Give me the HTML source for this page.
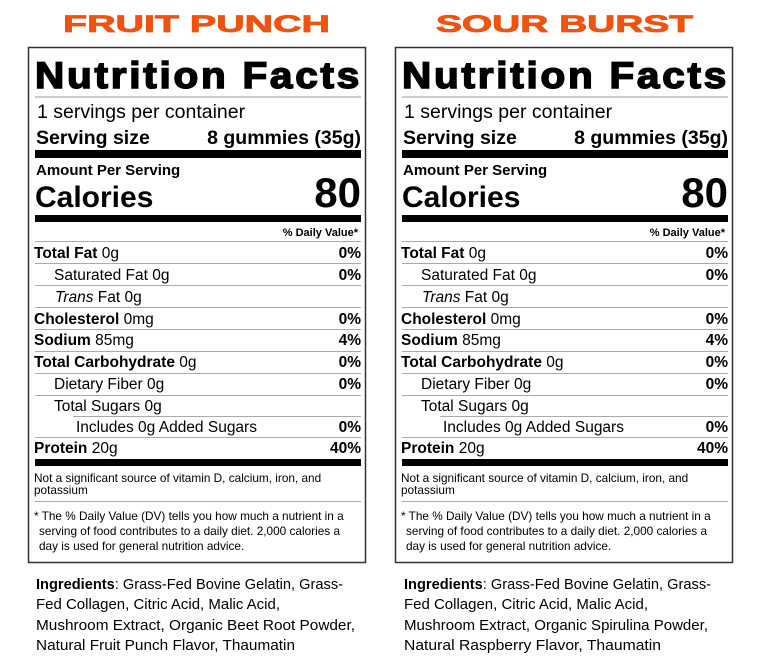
<!DOCTYPE html>
<html><head><meta charset="utf-8"><style>
html,body{margin:0;padding:0;background:#fff;}
svg{display:block;font-family:"Liberation Sans",Arial,sans-serif;}
.b{font-weight:bold}
.r{text-anchor:end}
.ing{font-size:14.5px;fill:#000}
.nf{letter-spacing:2.5px}
</style></head><body>
<svg width="760" height="668" viewBox="0 0 760 668" xmlns="http://www.w3.org/2000/svg">
<!-- LEFT PANEL -->
<g>
<text x="63" y="32" font-size="24" class="b" fill="#f0520f" textLength="267" lengthAdjust="spacingAndGlyphs" stroke="#f0520f" stroke-width="0.8">FRUIT PUNCH</text>
<rect x="28.5" y="47.5" width="337" height="515" fill="none" stroke="#333" stroke-width="1.5"/>
<text x="35" y="88" font-size="37" class="b nf" textLength="327" lengthAdjust="spacingAndGlyphs" stroke="#000" stroke-width="1.5">Nutrition Facts</text>
<rect x="35" y="96.5" width="326" height="1" fill="#999"/>
<text x="37" y="118" font-size="19.5">1 servings per container</text>
<text x="36" y="144" font-size="19.5" class="b">Serving size</text>
<text x="361" y="144" font-size="19.5" class="b r">8 gummies (35g)</text>
<rect x="35" y="150" width="326" height="8" fill="#000"/>
<text x="36" y="175" font-size="15" class="b">Amount Per Serving</text>
<text x="35" y="207" font-size="30" class="b">Calories</text>
<text x="361" y="207" font-size="42" class="b r">80</text>
<rect x="35" y="215" width="326" height="7" fill="#000"/>
<text x="358" y="236" font-size="11" class="b r">% Daily Value*</text>
<g fill="#aaa">
<rect x="35" y="241" width="326" height="1"/>
<rect x="35" y="263" width="326" height="1"/>
<rect x="35" y="285" width="326" height="1"/>
<rect x="35" y="307" width="326" height="1"/>
<rect x="35" y="329" width="326" height="1"/>
<rect x="35" y="351" width="326" height="1"/>
<rect x="35" y="373" width="326" height="1"/>
<rect x="35" y="395" width="326" height="1"/>
<rect x="73" y="416" width="288" height="1"/>
<rect x="35" y="437" width="326" height="1"/>
</g>
<g font-size="15.5">
<text x="34" y="258"><tspan class="b">Total Fat</tspan> 0g</text><text x="361" y="258" class="b r">0%</text>
<text x="54" y="280">Saturated Fat 0g</text><text x="361" y="280" class="b r">0%</text>
<text x="55" y="302"><tspan font-style="italic">Trans</tspan> Fat 0g</text>
<text x="34" y="324"><tspan class="b">Cholesterol</tspan> 0mg</text><text x="361" y="324" class="b r">0%</text>
<text x="34" y="345"><tspan class="b">Sodium</tspan> 85mg</text><text x="361" y="345" class="b r">4%</text>
<text x="34" y="367"><tspan class="b">Total Carbohydrate</tspan> 0g</text><text x="361" y="367" class="b r">0%</text>
<text x="54" y="389">Dietary Fiber 0g</text><text x="361" y="389" class="b r">0%</text>
<text x="54" y="411">Total Sugars 0g</text>
<text x="76" y="432">Includes 0g Added Sugars</text><text x="361" y="432" class="b r">0%</text>
<text x="34" y="453"><tspan class="b">Protein</tspan> 20g</text><text x="361" y="453" class="b r">40%</text>
</g>
<rect x="35" y="459" width="326" height="7" fill="#000"/>
<text x="34" y="482" font-size="11.8">Not a significant source of vitamin D, calcium, iron, and</text>
<text x="34" y="494" font-size="11.8">potassium</text>
<rect x="35" y="501" width="326" height="1" fill="#aaa"/>
<text x="34" y="520" font-size="11.8">* The % Daily Value (DV) tells you how much a nutrient in a</text>
<text x="39" y="535" font-size="11.8">serving of food contributes to a daily diet. 2,000 calories a</text>
<text x="39" y="550" font-size="11.8">day is used for general nutrition advice.</text>
<g class="ing">
<text x="36" y="589" textLength="307" lengthAdjust="spacingAndGlyphs"><tspan class="b">Ingredients</tspan>: Grass-Fed Bovine Gelatin, Grass-</text>
<text x="36" y="609" textLength="244" lengthAdjust="spacingAndGlyphs">Fed Collagen, Citric Acid, Malic Acid,</text>
<text x="36" y="630" textLength="319" lengthAdjust="spacingAndGlyphs">Mushroom Extract, Organic Beet Root Powder,</text>
<text x="36" y="650" textLength="259" lengthAdjust="spacingAndGlyphs">Natural Fruit Punch Flavor, Thaumatin</text>
</g>
</g>
<!-- RIGHT PANEL -->
<g transform="translate(367,0)">
<text x="69" y="32" font-size="24" class="b" fill="#f0520f" textLength="257" lengthAdjust="spacingAndGlyphs" stroke="#f0520f" stroke-width="0.8">SOUR BURST</text>
<rect x="28.5" y="47.5" width="337" height="515" fill="none" stroke="#333" stroke-width="1.5"/>
<text x="35" y="88" font-size="37" class="b nf" textLength="327" lengthAdjust="spacingAndGlyphs" stroke="#000" stroke-width="1.5">Nutrition Facts</text>
<rect x="35" y="96.5" width="326" height="1" fill="#999"/>
<text x="37" y="118" font-size="19.5">1 servings per container</text>
<text x="36" y="144" font-size="19.5" class="b">Serving size</text>
<text x="361" y="144" font-size="19.5" class="b r">8 gummies (35g)</text>
<rect x="35" y="150" width="326" height="8" fill="#000"/>
<text x="36" y="175" font-size="15" class="b">Amount Per Serving</text>
<text x="35" y="207" font-size="30" class="b">Calories</text>
<text x="361" y="207" font-size="42" class="b r">80</text>
<rect x="35" y="215" width="326" height="7" fill="#000"/>
<text x="358" y="236" font-size="11" class="b r">% Daily Value*</text>
<g fill="#aaa">
<rect x="35" y="241" width="326" height="1"/>
<rect x="35" y="263" width="326" height="1"/>
<rect x="35" y="285" width="326" height="1"/>
<rect x="35" y="307" width="326" height="1"/>
<rect x="35" y="329" width="326" height="1"/>
<rect x="35" y="351" width="326" height="1"/>
<rect x="35" y="373" width="326" height="1"/>
<rect x="35" y="395" width="326" height="1"/>
<rect x="73" y="416" width="288" height="1"/>
<rect x="35" y="437" width="326" height="1"/>
</g>
<g font-size="15.5">
<text x="34" y="258"><tspan class="b">Total Fat</tspan> 0g</text><text x="361" y="258" class="b r">0%</text>
<text x="54" y="280">Saturated Fat 0g</text><text x="361" y="280" class="b r">0%</text>
<text x="55" y="302"><tspan font-style="italic">Trans</tspan> Fat 0g</text>
<text x="34" y="324"><tspan class="b">Cholesterol</tspan> 0mg</text><text x="361" y="324" class="b r">0%</text>
<text x="34" y="345"><tspan class="b">Sodium</tspan> 85mg</text><text x="361" y="345" class="b r">4%</text>
<text x="34" y="367"><tspan class="b">Total Carbohydrate</tspan> 0g</text><text x="361" y="367" class="b r">0%</text>
<text x="54" y="389">Dietary Fiber 0g</text><text x="361" y="389" class="b r">0%</text>
<text x="54" y="411">Total Sugars 0g</text>
<text x="76" y="432">Includes 0g Added Sugars</text><text x="361" y="432" class="b r">0%</text>
<text x="34" y="453"><tspan class="b">Protein</tspan> 20g</text><text x="361" y="453" class="b r">40%</text>
</g>
<rect x="35" y="459" width="326" height="7" fill="#000"/>
<text x="34" y="482" font-size="11.8">Not a significant source of vitamin D, calcium, iron, and</text>
<text x="34" y="494" font-size="11.8">potassium</text>
<rect x="35" y="501" width="326" height="1" fill="#aaa"/>
<text x="34" y="520" font-size="11.8">* The % Daily Value (DV) tells you how much a nutrient in a</text>
<text x="39" y="535" font-size="11.8">serving of food contributes to a daily diet. 2,000 calories a</text>
<text x="39" y="550" font-size="11.8">day is used for general nutrition advice.</text>
<g class="ing">
<text x="37" y="589" textLength="307" lengthAdjust="spacingAndGlyphs"><tspan class="b">Ingredients</tspan>: Grass-Fed Bovine Gelatin, Grass-</text>
<text x="37" y="609" textLength="244" lengthAdjust="spacingAndGlyphs">Fed Collagen, Citric Acid, Malic Acid,</text>
<text x="37" y="630" textLength="304" lengthAdjust="spacingAndGlyphs">Mushroom Extract, Organic Spirulina Powder,</text>
<text x="37" y="650" textLength="257" lengthAdjust="spacingAndGlyphs">Natural Raspberry Flavor, Thaumatin</text>
</g>
</g>
</svg>
</body></html>
